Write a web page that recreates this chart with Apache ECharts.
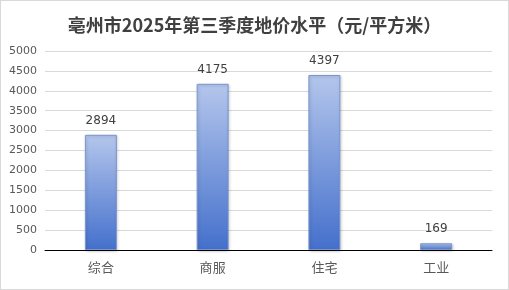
<!DOCTYPE html>
<html><head><meta charset="utf-8">
<script src="https://cdn.jsdelivr.net/npm/echarts@6/dist/echarts.min.js"></script>
<style>html,body{margin:0;padding:0;background:#fff}#c{width:509px;height:290px;box-sizing:border-box;border:1px solid #d9d9d9}</style>
</head><body><div id="c"></div>
<script>
const categories = ['综合', '商服', '住宅', '工业'];
const values = [2894, 4175, 4397, 169];
const yTicks = [0, 500, 1000, 1500, 2000, 2500, 3000, 3500, 4000, 4500, 5000];

const chart = echarts.init(document.getElementById('c'));
chart.setOption({
  animation: false,
  title: {
    text: '亳州市2025年第三季度地价水平（元/平方米）',
    left: 'center', top: 10,
    textStyle: {fontSize: 18, fontWeight: 'bold', color: '#404040', fontFamily: 'Noto Sans CJK SC'}
  },
  grid: {left: 44, right: 16, top: 50, bottom: 39},
  xAxis: {
    type: 'category', data: categories,
    axisLine: {lineStyle: {color: '#000', width: 1}},
    axisTick: {show: false},
    axisLabel: {fontSize: 13, color: '#595959', margin: 11, fontFamily: 'Noto Sans CJK SC'}
  },
  yAxis: {
    type: 'value', min: yTicks[0], max: yTicks[yTicks.length - 1], interval: 500,
    axisLine: {show: false}, axisTick: {show: false},
    splitLine: {lineStyle: {color: '#d9d9d9'}},
    axisLabel: {fontSize: 11, color: '#595959', margin: 8, fontFamily: 'DejaVu Sans',
      formatter: v => String(v)}
  },
  series: [{
    type: 'bar', data: values, barWidth: 32,
    itemStyle: {
      color: new echarts.graphic.LinearGradient(0, 0, 0, 1, [
        {offset: 0, color: '#b4c6ec'}, {offset: 1, color: '#4470cc'}
      ]),
      borderColor: '#7a95d0', borderWidth: 1,
      shadowColor: 'rgba(0,0,0,0.2)', shadowBlur: 3, shadowOffsetX: 1, shadowOffsetY: 1
    },
    label: {
      show: true, position: 'top', distance: 8, fontSize: 12, color: '#404040',
      fontFamily: 'DejaVu Sans'
    }
  }]
});
</script></body></html>
